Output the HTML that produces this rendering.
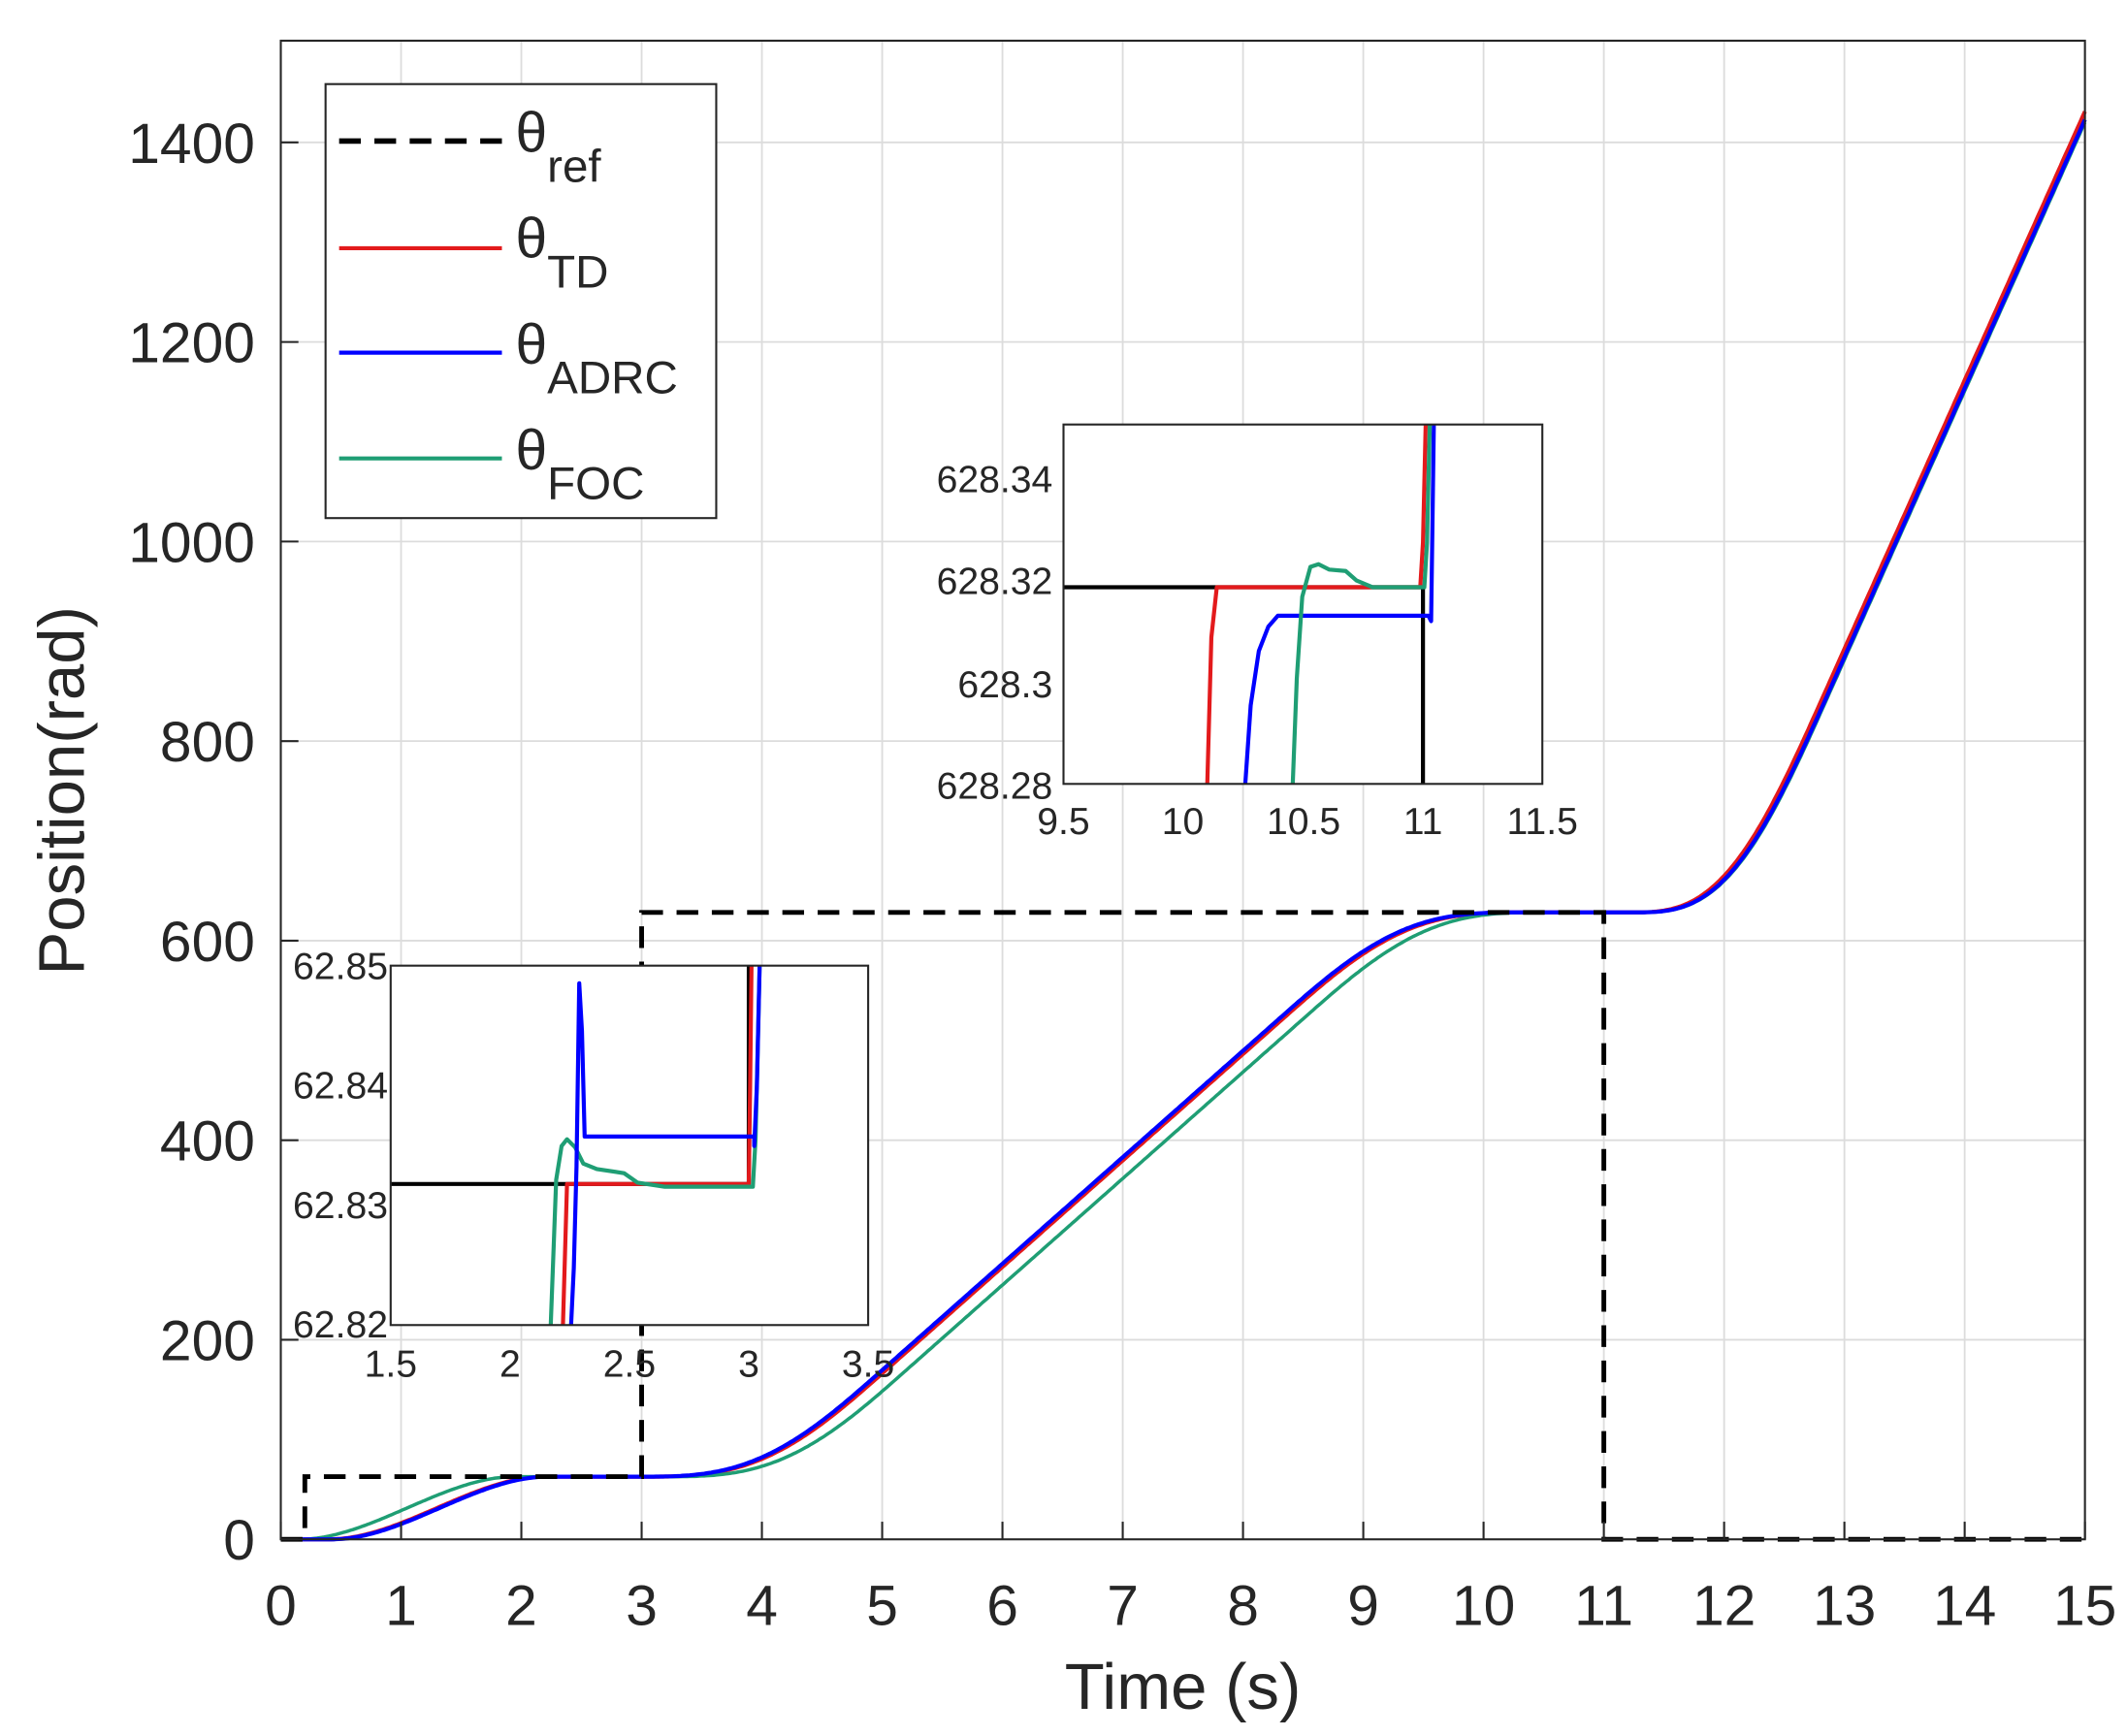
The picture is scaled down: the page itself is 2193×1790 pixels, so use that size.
<!DOCTYPE html>
<html><head><meta charset="utf-8"><style>
html,body{margin:0;padding:0;background:#fff;}
svg{display:block;}
text{font-family:"Liberation Sans",Arial,sans-serif;fill:#262626;}
</style></head><body>
<svg id="s" width="2193" height="1790" viewBox="0 0 1568 1280" preserveAspectRatio="none" xmlns="http://www.w3.org/2000/svg">
<rect width="1568" height="1280" fill="#fff"/>
<g id="grid" stroke="#dcdcdc" stroke-width="1.3"></g>
<g id="main"></g>
<rect x="207" y="30" width="1330" height="1105" fill="none" stroke="#262626" stroke-width="1.5"/>
<g id="ticks" font-size="42"></g>
<text x="872" y="1260" font-size="48" text-anchor="middle">Time (s)</text>
<text transform="translate(62,583) rotate(-90)" font-size="48" text-anchor="middle">Position(rad)</text>

<!-- legend -->
<rect x="240" y="62" width="288" height="320" fill="#fff" stroke="#262626" stroke-width="1.5"/>
<line x1="250" y1="104" x2="370" y2="104" stroke="#000" stroke-width="4" stroke-dasharray="16,10"/>
<line x1="250" y1="183" x2="370" y2="183" stroke="#e31a1c" stroke-width="3"/>
<line x1="250" y1="260" x2="370" y2="260" stroke="#0000ff" stroke-width="3"/>
<line x1="250" y1="338" x2="370" y2="338" stroke="#1f9e74" stroke-width="3"/>
<text x="380" y="112" font-size="42">θ<tspan font-size="34" dy="22">ref</tspan></text>
<text x="380" y="190" font-size="42">θ<tspan font-size="34" dy="22">TD</tspan></text>
<text x="380" y="268" font-size="42">θ<tspan font-size="34" dy="22">ADRC</tspan></text>
<text x="380" y="346" font-size="42">θ<tspan font-size="34" dy="22">FOC</tspan></text>

<!-- inset 1 -->
<rect x="288" y="712" width="352" height="265" fill="#fff"/>
<clipPath id="c1"><rect x="288" y="712" width="352" height="265"/></clipPath>
<g clip-path="url(#c1)" fill="none" stroke-width="3" stroke-linejoin="round">
<polyline points="288,873 552,873 552,712" stroke="#000"/>
<polyline points="415,977 418,873 552,873 553,800 554,712" stroke="#e31a1c"/>
<polyline points="406,977 410,870 414,845 418,840 424,846 430,858 440,862 460,865 470,872 490,875 555,875 557,840 560,712" stroke="#1f9e74"/>
<polyline points="421,977 423,935 425,860 427,725 429,760 431,838 556,838 556,845 558,800 560,712" stroke="#0000ff"/>
</g>
<rect x="288" y="712" width="352" height="265" fill="none" stroke="#262626" stroke-width="1.5"/>
<g font-size="28" text-anchor="middle">
<text x="288" y="1015">1.5</text><text x="376" y="1015">2</text><text x="464" y="1015">2.5</text><text x="552" y="1015">3</text><text x="640" y="1015">3.5</text>
</g>
<g font-size="28" text-anchor="end">
<text x="286" y="722">62.85</text><text x="286" y="810">62.84</text><text x="286" y="898">62.83</text><text x="286" y="986">62.82</text>
</g>

<!-- inset 2 -->
<rect x="784" y="313" width="353" height="265" fill="#fff"/>
<clipPath id="c2"><rect x="784" y="313" width="353" height="265"/></clipPath>
<g clip-path="url(#c2)" fill="none" stroke-width="3" stroke-linejoin="round">
<polyline points="784,433 1049,433 1049,578" stroke="#000"/>
<polyline points="890,578 893,470 897,433 1047,433 1049,400 1051,313" stroke="#e31a1c"/>
<polyline points="918,578 922,520 928,480 935,462 942,454 1053,454 1055,458 1057,313" stroke="#0000ff"/>
<polyline points="953,578 956,500 960,440 966,418 972,416 980,420 992,421 1000,428 1012,433 1050,433 1052,400 1054,313" stroke="#1f9e74"/>
</g>
<rect x="784" y="313" width="353" height="265" fill="none" stroke="#262626" stroke-width="1.5"/>
<g font-size="28" text-anchor="middle">
<text x="784" y="615">9.5</text><text x="872" y="615">10</text><text x="961" y="615">10.5</text><text x="1049" y="615">11</text><text x="1137" y="615">11.5</text>
</g>
<g font-size="28" text-anchor="end">
<text x="776" y="363">628.34</text><text x="776" y="438">628.32</text><text x="776" y="514">628.3</text><text x="776" y="589">628.28</text>
</g>
</svg>
<script>
var X=t=>207+t*88.667, Y=v=>1135-v*0.73571;
var g=document.getElementById('grid'),tk=document.getElementById('ticks'),m=document.getElementById('main');
var ns='http://www.w3.org/2000/svg';
function el(p,n,a,txt){var e=document.createElementNS(ns,n);for(var k in a)e.setAttribute(k,a[k]);if(txt!=null)e.textContent=txt;p.appendChild(e);return e;}
for(var i=0;i<=15;i++){var x=X(i);if(i>0&&i<15)el(g,'line',{x1:x,y1:30,x2:x,y2:1135});
 el(tk,'line',{x1:x,y1:1135,x2:x,y2:1122,stroke:'#262626','stroke-width':1.5});
 el(tk,'text',{x:x,y:1198,'text-anchor':'middle'},i);}
for(var v=0;v<=1400;v+=200){var y=Y(v);if(v>0)el(g,'line',{x1:207,y1:y,x2:1537,y2:y});
 el(tk,'line',{x1:207,y1:y,x2:220,y2:y,stroke:'#262626','stroke-width':1.5});
 el(tk,'text',{x:188,y:y+15,'text-anchor':'end'},v);}
function ss(a,b,t){if(t<=a)return 0;if(t>=b)return 1;var u=(t-a)/(b-a);return u*u*(3-2*u);}
function ramp(t,a,r,c,f,vm){if(t<=a)return 0;var d=0;
 var t1=Math.min(t,a+r);var u=t1-a;d+=vm*(u/2-r/(2*Math.PI)*Math.sin(Math.PI*u/r));
 if(t>a+r){var t2=Math.min(t,c);d+=vm*(t2-(a+r));}
 if(f>0&&t>c){var w=Math.min(t,c+f)-c;d+=vm*(w/2+f/(2*Math.PI)*Math.sin(Math.PI*w/f));}
 return d;}
function pos(t,s){var p=62.83*ss(0.3+s.a,2.1+s.a,t);
 var vm=565.5/5.3;var te=t-s.e;p+=ramp(te,3,2,8.3,2,vm);
 var vm2=808/3;p+=ramp(t,11.2+s.d,1.6,99,0,vm2);
 return p;}
function path(s,col,w){var d='';for(var t=0;t<=15.0001;t+=0.02){var vv=pos(t,s);d+=(t==0?'M':'L')+X(t).toFixed(1)+','+Y(vv).toFixed(1);}
 el(m,'path',{d:d,fill:'none',stroke:col,'stroke-width':w});}
path({a:0.1,e:0.03,d:0.02},'#e31a1c',3);
path({a:-0.15,e:0.2,d:0.06},'#1f9e74',2.5);
path({a:0.12,e:0,d:0.05},'#0000ff',3);
var rd='M'+X(0)+','+Y(0)+' L'+X(0.2)+','+Y(0)+' L'+X(0.2)+','+Y(62.83)+' L'+X(3)+','+Y(62.83)+' L'+X(3)+','+Y(628.3)+' L'+X(11)+','+Y(628.3)+' L'+X(11)+','+Y(0)+' L'+X(15)+','+Y(0);
el(m,'path',{d:rd,fill:'none',stroke:'#000','stroke-width':3.5,'stroke-dasharray':'16,10'});
</script>
</body></html>
